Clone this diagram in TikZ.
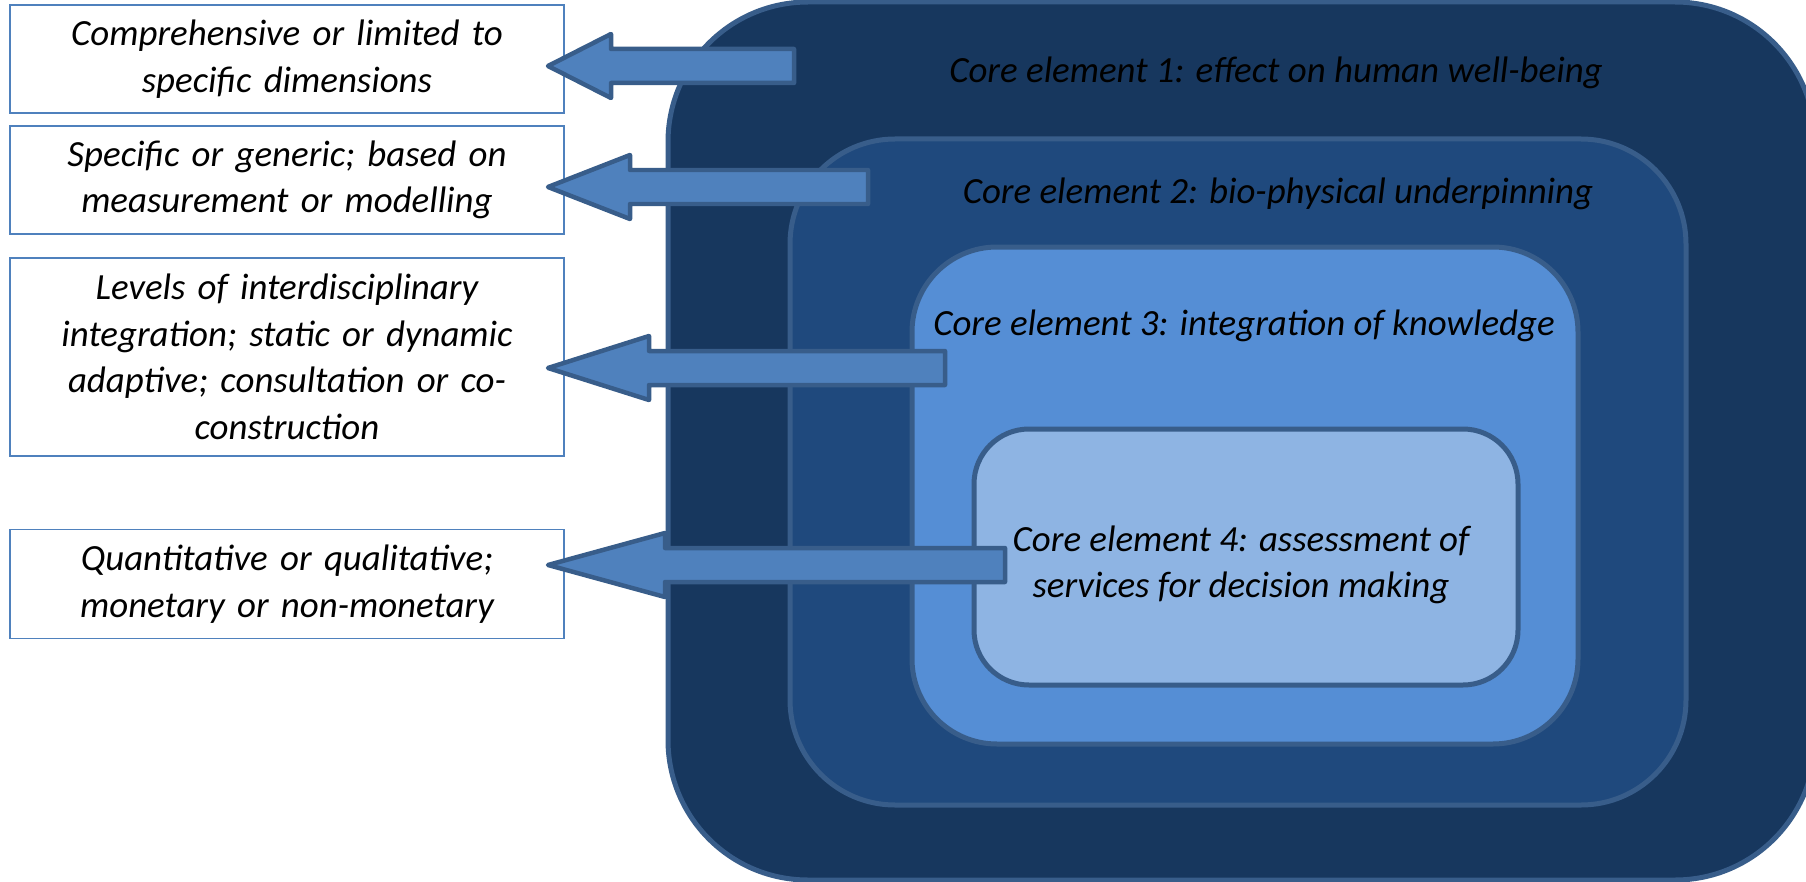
\documentclass[tikz,border=0pt]{standalone}
\usepackage{fontspec}
\setmainfont{Carlito}
\definecolor{navyA}{HTML}{17375E}
\definecolor{navyB}{HTML}{1F497D}
\definecolor{blueC}{HTML}{558ED5}
\definecolor{blueD}{HTML}{8EB4E3}
\definecolor{rim}{HTML}{385D8A}
\definecolor{arrowfill}{HTML}{4F81BD}
\tikzset{
	infobox/.style = {draw = arrowfill, line width = 0.025cm, fill = white, minimum width = 11.08cm, text width = 10.8cm, align = center, inner sep = 0pt},
	core/.style = {draw = rim, line width = 0.1cm},
	blockarrow/.style = {draw = rim, fill = arrowfill, line width = 0.09cm, line join = round},
	corelabel/.style = {align = center, inner sep = 0pt}
}
\begin{document}
\begin{tikzpicture}[x=0.02cm, y=-0.02cm, font=\fontsize{21}{26.5}\selectfont\itshape]
	\useasboundingbox (0,0) rectangle (1806,882);
	\clip (0,0) rectangle (1806,882);
	% nested core elements
	\draw[core, fill = navyA, rounded corners = 2.8cm]	(668,2) rectangle (1815,880);
	\draw[core, fill = navyB, rounded corners = 2.1cm]	(790,139) rectangle (1686,805);
	\draw[core, fill = blueC, rounded corners = 1.7cm]	(912,247) rectangle (1578,744);
	\draw[core, fill = blueD, rounded corners = 1.1cm]	(974,429) rectangle (1518,685);
	\node (ce1) at (1276, 73)	[corelabel]	{Core element 1: effect on human well-being};
	\node (ce2) at (1278,194)	[corelabel]	{Core element 2: bio-physical underpinning};
	\node (ce3) at (1244,326)	[corelabel]	{Core element 3: integration of knowledge};
	\node (ce4) at (1241,565)	[corelabel]	{Core element 4: assessment of\\services for decision making};
	% option boxes
	\node (dims) at (287, 59)	[infobox, minimum height = 2.16cm]	{Comprehensive or limited to\\specific dimensions};
	\node (meas) at (287,180)	[infobox, minimum height = 2.16cm]	{Specific or generic; based on\\measurement or modelling};
	\node (intg) at (287,357)	[infobox, minimum height = 3.96cm]	{Levels of interdisciplinary\\integration; static or dynamic\\adaptive; consultation or co-\\construction};
	\node (valu) at (287,584)	[infobox, minimum height = 2.18cm]	{Quantitative or qualitative;\\monetary or non-monetary};
	% block arrows
	\foreach \yc/\xb/\xe in {66/611/794, 187/630/868, 368/649/945, 565/665/1005}
		\draw[blockarrow] (548,\yc) -- (\xb,\yc-32) -- (\xb,\yc-17) -- (\xe,\yc-17) -- (\xe,\yc+17) -- (\xb,\yc+17) -- (\xb,\yc+32) -- cycle;
\end{tikzpicture}
\end{document}
